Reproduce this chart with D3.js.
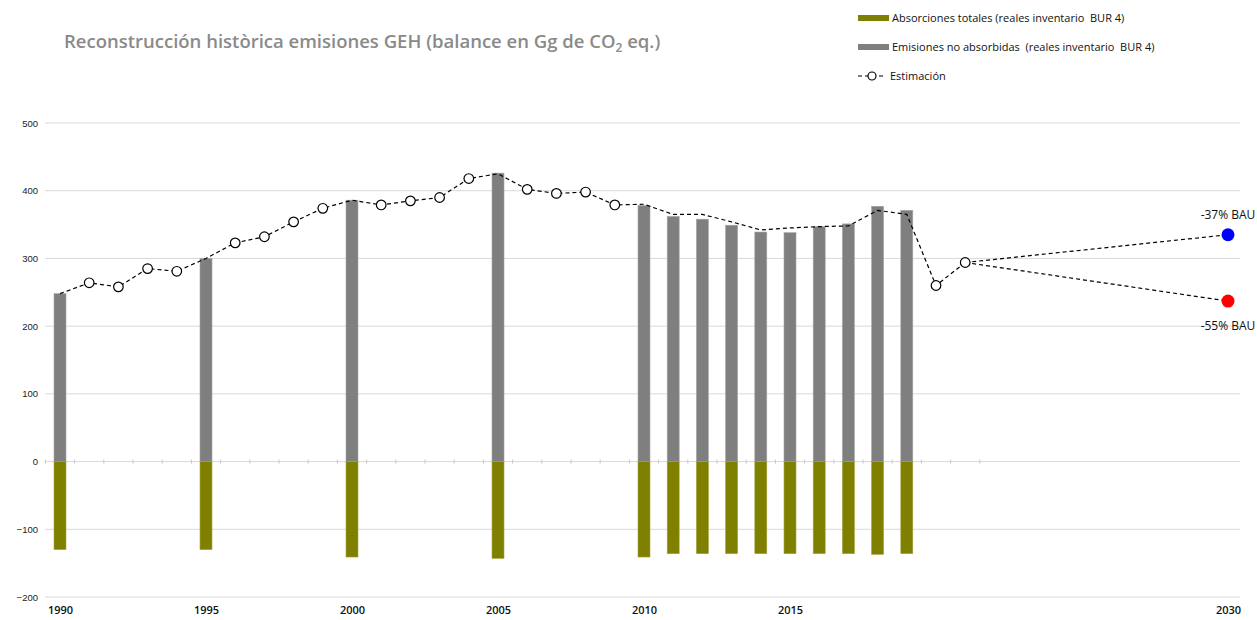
<!DOCTYPE html>
<html>
<head>
<meta charset="utf-8">
<script src="https://cdn.jsdelivr.net/npm/d3@7"></script>
<style>
  body { margin: 0; background: #fff; }
  svg { display: block; }
</style>
</head>
<body>
<svg id="chart" width="1257" height="620"></svg>
<script>
// Дані з графіка
const barYears = [1990, 1995, 2000, 2005, 2010, 2011, 2012, 2013, 2014, 2015, 2016, 2017, 2018, 2019];
const emisiones = [248, 300, 386, 426, 378, 362, 358, 349, 339, 338, 347, 351, 377, 371];
const absorciones = [-130, -130, -141, -143, -141, -136, -136, -136, -136, -136, -136, -136, -137, -136];

const estYears = [1990, 1991, 1992, 1993, 1994, 1995, 1996, 1997, 1998, 1999, 2000, 2001, 2002, 2003, 2004, 2005,
  2006, 2007, 2008, 2009, 2010, 2011, 2012, 2013, 2014, 2015, 2016, 2017, 2018, 2019, 2020, 2021];
const estimacion = [248, 264, 258, 285, 281, 300, 323, 332, 354, 374, 386, 379, 385, 390, 418, 425,
  402, 396, 398, 379, 380, 365, 365, 354, 342, 345, 347, 348, 371, 365, 260, 294];

const scenarios = [
  { label: '-37% BAU', value: 335, color: '#0000ff', dy: -16 },
  { label: '-55% BAU', value: 237, color: '#ff0000', dy: 29 }
];
const scenarioStart = { year: 2021, value: 294 };
const targetYear = 2030;

const yTicks = [-200, -100, 0, 100, 200, 300, 400, 500];
const xTicks = [1990, 1995, 2000, 2005, 2010, 2015, 2030];

const svg = d3.select('#chart');

const xScale = d3.scaleLinear().domain([1990, 2030]).range([60, 1228]);
const yScale = d3.scaleLinear().domain([-200, 500]).range([597, 123]);

// Заголовок
const title = svg.append('text')
  .attr('x', 64)
  .attr('y', 48)
  .style('font-family', '"Open Sans", sans-serif')
  .style('font-size', '18.5px')
  .style('font-weight', '600')
  .style('fill', '#8a8a8a');
title.append('tspan').text('Reconstrucción històrica emisiones GEH (balance en Gg de CO');
title.append('tspan').attr('dy', 4).style('font-size', '12px').text('2');
title.append('tspan').attr('dy', -4).text(' eq.)');

// Сітка
svg.append('g')
  .selectAll('.y-grid')
  .data(yTicks)
  .enter()
  .append('line')
  .attr('class', 'y-grid')
  .attr('x1', 45)
  .attr('x2', 1240)
  .attr('y1', d => yScale(d))
  .attr('y2', d => yScale(d))
  .style('stroke', '#d9d9d9')
  .style('stroke-width', 1);

// Вісь Y
svg.append('g')
  .attr('transform', 'translate(38, 0)')
  .call(d3.axisLeft(yScale).tickValues(yTicks).tickSize(0).tickPadding(0))
  .call(g => g.select('.domain').remove())
  .selectAll('.tick text')
  .style('font-family', '"Liberation Sans", Arial, sans-serif')
  .style('font-size', '9.5px')
  .style('fill', '#222');

// Маленькі поділки на нульовій лінії
const halfTicks = d3.range(1989.5, 2022, 1);
svg.append('g')
  .selectAll('.zero-tick')
  .data(halfTicks)
  .enter()
  .append('line')
  .attr('x1', d => xScale(d))
  .attr('x2', d => xScale(d))
  .attr('y1', yScale(0) - 2)
  .attr('y2', yScale(0) + 2)
  .style('stroke', '#c8c8c8')
  .style('stroke-width', 1);

// Вісь X
svg.append('g')
  .attr('transform', 'translate(0, 604)')
  .call(d3.axisBottom(xScale).tickValues(xTicks).tickFormat(d3.format('d')).tickSize(0).tickPadding(0))
  .call(g => g.select('.domain').remove())
  .selectAll('.tick text')
  .attr('dy', '0.9em')
  .style('font-family', '"Open Sans", sans-serif')
  .style('font-size', '11px')
  .style('font-weight', '600')
  .style('fill', '#111');

const barW = 12;

// Стовпчики
svg.append('g')
  .selectAll('.emis')
  .data(barYears)
  .enter()
  .append('rect')
  .attr('class', 'emis')
  .attr('x', d => xScale(d) - barW / 2)
  .attr('width', barW)
  .attr('y', (d, i) => yScale(emisiones[i]))
  .attr('height', (d, i) => yScale(0) - yScale(emisiones[i]))
  .style('fill', '#7f7f7f')
  .style('stroke', '#a6a6a6')
  .style('stroke-width', 0.6);

svg.append('g')
  .selectAll('.abs')
  .data(barYears)
  .enter()
  .append('rect')
  .attr('class', 'abs')
  .attr('x', d => xScale(d) - barW / 2)
  .attr('width', barW)
  .attr('y', yScale(0))
  .attr('height', (d, i) => yScale(absorciones[i]) - yScale(0))
  .style('fill', '#808000')
  .style('stroke', '#a3a340')
  .style('stroke-width', 0.6);

// Лінія оцінки
const estData = estYears.map((y, i) => ({ year: y, value: estimacion[i] }));
const line = d3.line().x(d => xScale(d.year)).y(d => yScale(d.value));

svg.append('path')
  .datum(estData)
  .attr('d', line)
  .style('fill', 'none')
  .style('stroke', '#000')
  .style('stroke-width', 1.2)
  .style('stroke-dasharray', '4,3');

scenarios.forEach(s => {
  svg.append('path')
    .datum([scenarioStart, { year: targetYear, value: s.value }])
    .attr('d', line)
    .style('fill', 'none')
    .style('stroke', '#000')
    .style('stroke-width', 1.2)
    .style('stroke-dasharray', '4,3');
});

// Кружечки там, де немає реальних даних
svg.append('g')
  .selectAll('.est-pt')
  .data(estData.filter(d => !barYears.includes(d.year)))
  .enter()
  .append('circle')
  .attr('class', 'est-pt')
  .attr('cx', d => xScale(d.year))
  .attr('cy', d => yScale(d.value))
  .attr('r', 4.8)
  .style('fill', '#fff')
  .style('stroke', '#000')
  .style('stroke-width', 1.2);

// Сценарії 2030
scenarios.forEach(s => {
  svg.append('circle')
    .attr('cx', xScale(targetYear))
    .attr('cy', yScale(s.value))
    .attr('r', 6.5)
    .style('fill', s.color);
  svg.append('text')
    .attr('x', xScale(targetYear))
    .attr('y', yScale(s.value) + s.dy)
    .attr('text-anchor', 'middle')
    .style('font-family', '"Open Sans", sans-serif')
    .style('font-size', '12px')
    .style('fill', '#111')
    .text(s.label);
});

// Легенда
const legendItems = [
  { label: 'Absorciones totales (reales inventario\u00a0 BUR 4)', color: '#808000', y: 18 },
  { label: 'Emisiones no absorbidas\u00a0 (reales inventario\u00a0 BUR 4)', color: '#7f7f7f', y: 47 },
  { label: 'Estimación', color: null, y: 76 }
];

const legend = svg.append('g');
legendItems.forEach(item => {
  if (item.color) {
    legend.append('rect')
      .attr('x', 858)
      .attr('y', item.y - 3)
      .attr('width', 31)
      .attr('height', 6)
      .style('fill', item.color);
  } else {
    legend.append('line')
      .attr('x1', 858).attr('x2', 886)
      .attr('y1', item.y).attr('y2', item.y)
      .style('stroke', '#000')
      .style('stroke-width', 1.2)
      .style('stroke-dasharray', '4,3');
    legend.append('circle')
      .attr('cx', 872).attr('cy', item.y).attr('r', 4)
      .style('fill', '#fff').style('stroke', '#000').style('stroke-width', 1.2);
  }
  legend.append('text')
    .attr('x', item.color ? 892 : 890)
    .attr('y', item.y + 4)
    .style('font-family', '"Open Sans", sans-serif')
    .style('font-size', '11px')
    .style('fill', '#111')
    .text(item.label);
});
</script>
</body>
</html>
